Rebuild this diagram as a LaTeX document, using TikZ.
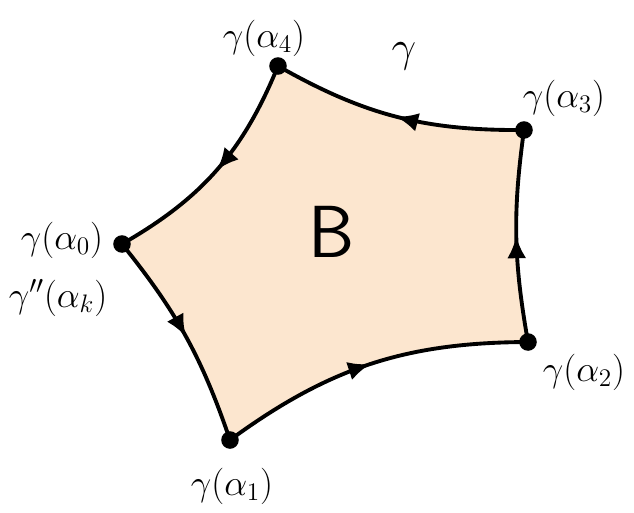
\documentclass[tikz,border=0pt]{standalone}
\usetikzlibrary{decorations.markings,arrows.meta}
\definecolor{peach}{HTML}{FCE6CF}
\tikzset{
  edge/.style={line width=2.2pt, postaction={decorate},
    decoration={markings, mark=at position 0.5 with {\arrow{Latex[length=4.4mm,width=3.8mm]}}}},
  lbl/.style={font=\huge},
}
\begin{document}
\begin{tikzpicture}[x=0.02cm,y=-0.02cm]
        \useasboundingbox (0,0) rectangle (634,512);
        % CORNERS
        \coordinate (a4) at (278,66);
        \coordinate (a3) at (524,130);
        \coordinate (a2) at (528,342);
        \coordinate (a1) at (230,440);
        \coordinate (a0) at (122,244);

        % REGION
        \fill[peach] (a3) to[bend left=15] (a4) to[bend left=19] (a0)
          to[bend left=10] (a1) to[bend left=18] (a2) to[bend left=9] (a3) -- cycle;
        \node[font=\fontsize{42}{46}\selectfont\sffamily] (B) at (332,232) {B};

        % ARROWS
        \draw[edge] (a3) to[bend left=15] (a4);
        \draw[edge] (a4) to[bend left=19] (a0);
        \draw[edge] (a0) to[bend left=10] (a1);
        \draw[edge] (a1) to[bend left=18] (a2);
        \draw[edge] (a2) to[bend left=9] (a3);

        % POINTS
        \foreach \p in {a0,a1,a2,a3,a4} {
          \fill (\p) circle (5pt);
        }

        % LABELS
        \node[lbl] (l4) at (264,38) {$\gamma(\alpha_4)$};
        \node[lbl] (l3) at (564,98) {$\gamma(\alpha_3)$};
        \node[lbl] (l2) at (584,372) {$\gamma(\alpha_2)$};
        \node[lbl] (l1) at (232,486) {$\gamma(\alpha_1)$};
        \node[lbl] (l0) at (62,240) {$\gamma(\alpha_0)$};
        \node[lbl] (lk) at (58,298) {$\gamma''(\alpha_k)$};
        \node[font=\fontsize{34}{40}\selectfont] (g) at (404,56) {$\gamma$};
\end{tikzpicture}
\end{document}
